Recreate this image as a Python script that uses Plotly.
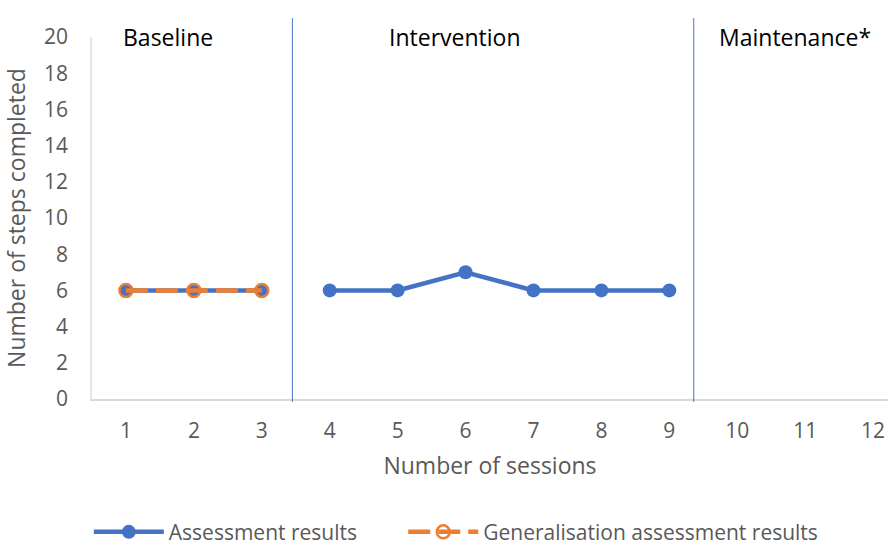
import plotly.graph_objects as go

# ---- data ----
sessions = list(range(1, 13))
baseline_sessions = [1, 2, 3]
baseline_values = [6, 6, 6]
intervention_sessions = [4, 5, 6, 7, 8, 9]
intervention_values = [6, 6, 7, 6, 6, 6]
generalisation_sessions = [1, 2, 3]
generalisation_values = [6, 6, 6]
phase_names = ["Baseline", "Intervention", "Maintenance*"]
phase_label_x = [1.62, 5.84, 10.85]
phase_breaks = [3.45, 9.36]
y_ticks = list(range(0, 21, 2))

BLUE = "#4472C4"
ORANGE = "#ED7D31"
GREY = "#595959"
FONT = "Open Sans, sans-serif"

# assessment series with a break between phases
ax = baseline_sessions + [None] + intervention_sessions
ay = baseline_values + [None] + intervention_values

fig = go.Figure()
fig.add_trace(go.Scatter(
    x=ax, y=ay, mode="lines+markers", name="Assessment results",
    line=dict(color=BLUE, width=4.5), marker=dict(color=BLUE, size=14),
    connectgaps=False, legend="legend",
))
fig.add_trace(go.Scatter(
    x=generalisation_sessions, y=generalisation_values, mode="lines+markers",
    name="Generalisation assessment results",
    line=dict(color=ORANGE, width=4.5, dash="22px,8px"),
    marker=dict(color="rgba(0,0,0,0)", size=13, symbol="circle",
                line=dict(color=ORANGE, width=2.5)),
    legend="legend2",
))

for b in phase_breaks:
    fig.add_shape(type="line", xref="x", yref="paper", x0=b, x1=b,
                  y0=-0.008, y1=1.052, line=dict(color=BLUE, width=1))

for name, px in zip(phase_names, phase_label_x):
    fig.add_annotation(x=px, y=20, xref="x", yref="y", text=name,
                       showarrow=False, yanchor="middle",
                       font=dict(family=FONT, size=23, color="#000000"))

legend_common = dict(orientation="h", xanchor="left", y=-0.368, yanchor="middle",
                     font=dict(family=FONT, size=21, color=GREY),
                     itemwidth=70, bgcolor="rgba(0,0,0,0)")

fig.update_layout(
    width=888, height=549,
    margin=dict(l=92, r=0, t=37, b=150, autoexpand=False),
    plot_bgcolor="white", paper_bgcolor="white",
    font=dict(family=FONT, color=GREY, size=21),
    showlegend=True,
    legend=dict(x=-0.004, **legend_common),
    legend2=dict(x=0.391, **legend_common),
)
fig.update_xaxes(
    range=[0.5, 12.22], tickmode="array", tickvals=sessions,
    ticktext=[str(s) for s in sessions], automargin=False,
    showgrid=False, zeroline=False, showline=True, linecolor="#D9D9D9", linewidth=1.5,
    ticks="", ticklabelstandoff=12,
    tickfont=dict(family=FONT, size=21, color=GREY),
    title=dict(text="Number of sessions", font=dict(family=FONT, size=23, color=GREY), standoff=15),
)
fig.update_yaxes(
    range=[0, 20], tickmode="array", tickvals=y_ticks, automargin=False,
    showgrid=False, zeroline=False, showline=True, linecolor="#E6E6E6", linewidth=1.5,
    ticks="", ticklabelstandoff=18,
    tickfont=dict(family=FONT, size=21, color=GREY),
    title=dict(text="Number of steps completed", font=dict(family=FONT, size=23, color=GREY), standoff=12),
)

fig.write_html(
    "out.html",
    config={"displayModeBar": False},
    post_script="document.body.style.margin='0';document.body.style.overflow='hidden';",
)
